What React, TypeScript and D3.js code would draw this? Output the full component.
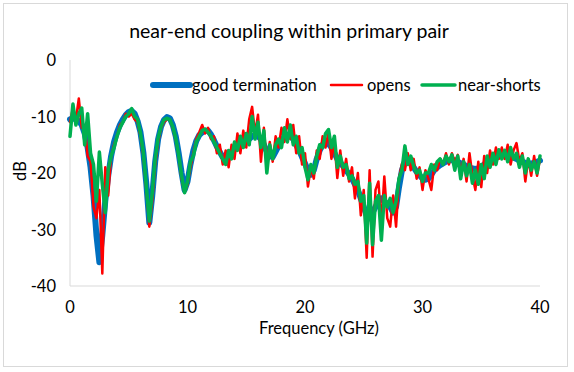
import React from 'react'
import * as d3 from 'd3'

// sampled every 0.25 GHz, 0..40
const freqStep = 0.25
const goodTermination = [
  -10.5, -10.3, -10.5, -10.8, -11.5, -13, -15.5, -19, -24, -31, -35.8, -31, -25, -20.5, -17, -14.5,
  -12.8, -11.5, -10.5, -9.7, -9.2, -9.0, -9.5, -10.8, -12.8, -16.5, -22, -28.8, -24, -18, -14, -11.8,
  -10.6, -10.1, -10.3, -11.5, -13.5, -16.5, -20, -23, -21.5, -18.5, -16, -14.3, -13.3, -12.8, -12.5, -12.5,
  -13.2, -14.2, -15.3, -16.3, -17.2, -17.5, -17, -16.3, -15.5, -15.0, -14.5, -14.2, -14.3, -14, -13.5, -13.3,
  -13.5, -14, -15, -16.2, -17, -17.2, -16.2, -15.2, -14.3, -13.6, -13.2, -13.3, -14, -15, -16, -17.2,
  -18.3, -19.5, -20.3, -19.5, -17.5, -16, -15, -14.5, -14.8, -15.5, -16.5, -17.5, -18.2, -18.8, -19.5, -20.2,
  -21, -22, -23, -24.5, -26, -27.5, -28, -27, -26, -25, -24.5, -25, -25.5, -26, -27, -26,
  -22.5, -19.5, -18, -17.8, -18.3, -19, -19.8, -20.4, -21, -21.2, -21, -20.3, -19.5, -19, -18.6, -18.3,
  -18, -17.8, -17.7, -17.8, -18, -18.3, -18.5, -18.8, -19, -19.2, -19.3, -19.2, -19, -18.5, -18, -17.5,
  -17, -16.7, -16.5, -16.4, -16.5, -16.8, -17, -17.3, -17.5, -17.8, -18, -18.2, -18.3, -18.3, -18.2, -18,
  -17.8,
]
const opens = [
  -11, -8.5, -10.5, -6.8, -12, -11.5, -17, -18, -26, -28, -23, -37.8, -19, -24, -17, -15,
  -13.5, -11.5, -11, -9.5, -10, -9.5, -10.5, -11, -13.5, -17, -23, -29.5, -25, -18.5, -14.5, -12,
  -11, -10.5, -10.5, -12, -14, -17, -21, -23.5, -22, -19, -16.5, -14, -12.8, -11.5, -13, -12,
  -14, -13.5, -16.5, -15, -18.5, -16, -19, -15, -17.5, -13, -16.5, -12.5, -15.5, -10.5, -8.3, -13,
  -9.7, -18, -12, -18.5, -14.5, -18, -13.5, -15.5, -12, -14.5, -10.5, -14, -11.5, -16.5, -13.5, -18.5,
  -16.5, -22.4, -19, -21, -16, -17.5, -13.5, -15.5, -12.7, -17.5, -14.5, -20.9, -16, -20.5, -17.5, -21.5,
  -19, -24.5, -20, -27.5, -23, -35, -19.5, -34.8, -23, -21.5, -29, -20.6, -28, -29.5, -24, -29.5,
  -21, -18.3, -19.5, -16.5, -19.5, -17.5, -21, -19, -23, -19.5, -21, -23, -18.5, -19.5, -17.5, -18.5,
  -16.5, -18.5, -16.5, -18, -16.8, -20, -17.5, -21.5, -16.5, -20.5, -23, -18, -22.5, -17, -20, -16,
  -18.5, -15.5, -17.5, -15.5, -17.5, -15, -18.5, -16, -14.7, -18, -16.5, -21.5, -17.5, -20.5, -17, -20.5,
  -17.5,
]
const nearShorts = [
  -13.5, -7.8, -11.5, -9.5, -8.5, -15, -9.5, -16.5, -18.5, -25, -16.3, -22, -27, -19.5, -17, -15.5,
  -13.5, -12, -11, -10, -9.5, -8.6, -10, -10.5, -13, -16.5, -22.5, -28.5, -23.5, -17.5, -13.8, -11.8,
  -10.6, -10.3, -10.6, -11.8, -13.8, -16.8, -20.5, -23.5, -21.5, -18, -17, -14.5, -13.5, -12.5, -12.2, -12.8,
  -13.5, -14.5, -15.5, -16.5, -17.5, -18.5, -16, -17.5, -14.5, -16, -13.5, -15.5, -13, -15, -10, -14,
  -11, -15.5, -12.5, -20, -15, -17.5, -15, -14, -15.5, -12, -14.5, -11.5, -15, -13.5, -16.5, -15.5,
  -19, -21.2, -18.5, -20, -17, -15, -15.5, -13, -12.3, -15.5, -13.5, -19, -17, -19, -18.5, -21,
  -20.5, -22, -21.5, -25, -24, -32.4, -21.8, -32.7, -25, -24, -31.9, -24, -26, -24.5, -27, -25,
  -21, -19.5, -15.2, -18.5, -17, -18.8, -20, -19.5, -21.5, -20, -20, -18.5, -19.5, -18, -17.5, -18.5,
  -17, -18, -16.8, -19.5, -17, -21, -18, -20.5, -18.5, -21.8, -19.5, -22, -18.5, -21, -17, -19,
  -16.5, -18.5, -15.9, -17.5, -16, -18, -15.5, -17.5, -16.5, -19, -17, -20, -17.5, -19.5, -18, -20,
  -17,
]

const seriesNames = ['good termination', 'opens', 'near-shorts']
const seriesColors = ['#0070C0', '#FF0000', '#00B050']
const seriesWidths = [6, 2.5, 3.5]
const xTicks = [0, 10, 20, 30, 40]
const yTicks = [0, -10, -20, -30, -40]

const W = 574
const H = 372
const font = 'Lato, "Open Sans", sans-serif'

export default function App() {
  const x = d3.scaleLinear().domain([0, 40]).range([70, 540])
  const y = d3.scaleLinear().domain([-40, 0]).range([286, 60])
  const all = [goodTermination, opens, nearShorts]
  const line = d3.line<number>()
    .x((_, i) => x(i * freqStep))
    .y(d => y(d))

  const legend = [
    { x1: 153, x2: 190, tx: 192 },
    { x1: 331, x2: 362, tx: 367 },
    { x1: 422, x2: 455, tx: 458 },
  ]

  return (
    <div style={{ position: 'absolute', left: 0, top: 0 }}>
      <svg width={W} height={H} style={{ display: 'block', fontFamily: font }}>
        <rect x={0} y={0} width={W} height={H} fill='#fff' />
        <rect x={3.5} y={3.5} width={564} height={363} fill='none' stroke='#d9d9d9' />
        <text x={289} y={38} textAnchor='middle' fontSize={19.5} fill='#000'>
          near-end coupling within primary pair
        </text>

        {/* axes */}
        <line x1={x(0)} x2={x(40)} y1={y(-40)} y2={y(-40)} stroke='#d9d9d9' strokeWidth={1} />
        <line x1={x(0)} x2={x(0)} y1={y(0)} y2={y(-40)} stroke='#d9d9d9' strokeWidth={1} />
        {yTicks.map(t => (
          <text key={`y${t}`} x={56} y={y(t) + 6} textAnchor='end' fontSize={16.5} fill='#000'>{t}</text>
        ))}
        {xTicks.map(t => (
          <text key={`x${t}`} x={x(t)} y={313} textAnchor='middle' fontSize={16.5} fill='#000'>{t}</text>
        ))}
        <text x={319} y={334} textAnchor='middle' fontSize={16.5} fill='#000'>Frequency (GHz)</text>
        <text transform={`translate(26,171) rotate(-90)`} textAnchor='middle' fontSize={16.5} fill='#000'>dB</text>

        {/* series */}
        {all.map((vals, k) => (
          <path key={seriesNames[k]} d={line(vals) || ''} fill='none'
            stroke={seriesColors[k]} strokeWidth={seriesWidths[k]}
            strokeLinejoin='round' strokeLinecap='round' />
        ))}

        {/* legend */}
        {legend.map((l, k) => (
          <g key={`lg${k}`}>
            <line x1={l.x1} x2={l.x2} y1={85} y2={85} stroke={seriesColors[k]}
              strokeWidth={seriesWidths[k]} strokeLinecap='round' />
            <text x={l.tx} y={91} fontSize={16.5} fill='#000'>{seriesNames[k]}</text>
          </g>
        ))}
      </svg>
    </div>
  )
}
